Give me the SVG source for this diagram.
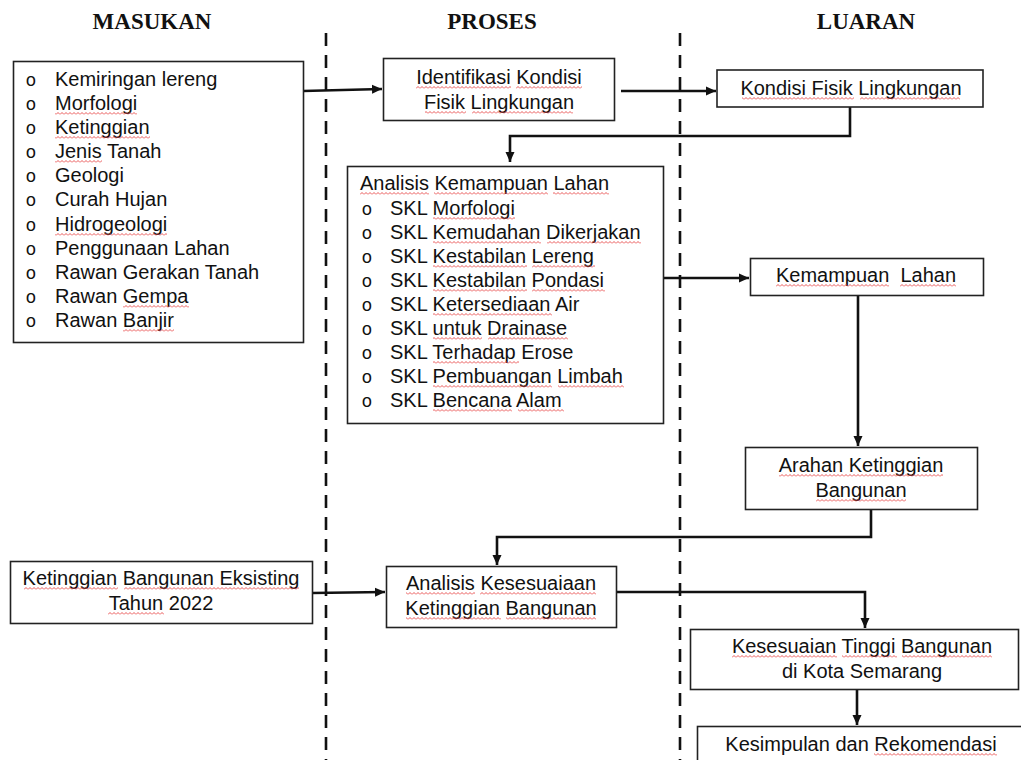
<svg xmlns="http://www.w3.org/2000/svg" width="1021" height="760" viewBox="0 0 1021 760">
<style>
.hdr{font-family:"Liberation Serif","Times New Roman",serif;font-weight:bold;font-size:23px;fill:#111;text-anchor:middle}
.t{font-family:"Liberation Sans",Arial,sans-serif;font-size:20px;fill:#111;white-space:pre}
.c{text-anchor:middle}
.b{font-family:"Liberation Mono","Courier New",monospace;font-size:18px;fill:#111;text-anchor:middle}
.box{fill:#fff;stroke:#222;stroke-width:1.6}
.dash{stroke:#111;stroke-width:2.6;stroke-dasharray:13 9;fill:none}
.con{stroke:#111;stroke-width:2.6;fill:none}
.sq{fill:url(#wv)}
</style>
<defs>
<marker id="ah" markerUnits="userSpaceOnUse" markerWidth="11" markerHeight="10" refX="10" refY="5" orient="auto">
<path d="M0,0.5 L10,5 L0,9.5 z" fill="#111"/>
</marker>
<pattern id="wv" patternUnits="userSpaceOnUse" x="0" y="0" width="4" height="3">
<path d="M0,2.5 L2,0.5 L4,2.5" fill="none" stroke="#e84545" stroke-width="0.9"/>
</pattern>
</defs>
<rect width="1021" height="760" fill="#fff"/>

<g id="headers">
<text class="hdr" x="152" y="29">MASUKAN</text>
<text class="hdr" x="492" y="29">PROSES</text>
<text class="hdr" x="866" y="29">LUARAN</text>
</g>

<g id="dividers">
<line class="dash" x1="326" y1="33" x2="326" y2="760"/>
<line class="dash" x1="680" y1="33" x2="680" y2="760"/>
</g>

<g id="connectors">
<path class="con" d="M303,91 L382,89" marker-end="url(#ah)"/>
<path class="con" d="M621,91 L716,91" marker-end="url(#ah)"/>
<path class="con" d="M850,107 L850,136 L510,136 L510,162" marker-end="url(#ah)"/>
<path class="con" d="M663,278 L749,278" marker-end="url(#ah)"/>
<path class="con" d="M858,295 L858,446" marker-end="url(#ah)"/>
<path class="con" d="M871,509 L871,537 L497,537 L497,565" marker-end="url(#ah)"/>
<path class="con" d="M312,593 L385,592" marker-end="url(#ah)"/>
<path class="con" d="M616,592 L865,592 L865,628" marker-end="url(#ah)"/>
<path class="con" d="M857,689 L857,725" marker-end="url(#ah)"/>
</g>

<g id="masukan-list">
<rect class="box" x="13.5" y="61.5" width="290" height="281"/>
<text class="b" x="31" y="86">o</text><text class="t" x="55" y="86">Kemiringan lereng</text>
<text class="b" x="31" y="110">o</text><text class="t" x="55" y="110">Morfologi</text>
<text class="b" x="31" y="134">o</text><text class="t" x="55" y="134">Ketinggian</text>
<text class="b" x="31" y="158">o</text><text class="t" x="55" y="158">Jenis Tanah</text>
<text class="b" x="31" y="182">o</text><text class="t" x="55" y="182">Geologi</text>
<text class="b" x="31" y="206">o</text><text class="t" x="55" y="206">Curah Hujan</text>
<text class="b" x="31" y="231">o</text><text class="t" x="55" y="231">Hidrogeologi</text>
<text class="b" x="31" y="255">o</text><text class="t" x="55" y="255">Penggunaan Lahan</text>
<text class="b" x="31" y="279">o</text><text class="t" x="55" y="279">Rawan Gerakan Tanah</text>
<text class="b" x="31" y="303">o</text><text class="t" x="55" y="303">Rawan Gempa</text>
<text class="b" x="31" y="327">o</text><text class="t" x="55" y="327">Rawan Banjir</text>
</g>

<g id="identifikasi">
<rect class="box" x="383.5" y="58.5" width="231" height="62"/>
<text class="t c" x="499" y="84">Identifikasi Kondisi</text>
<text class="t c" x="499" y="109">Fisik Lingkungan</text>
</g>

<g id="kondisi-fisik">
<rect class="box" x="717" y="70" width="266" height="37"/>
<text class="t c" x="851" y="95">Kondisi Fisik Lingkungan</text>
</g>

<g id="analisis-kemampuan">
<rect class="box" x="347.5" y="166.5" width="316" height="257"/>
<text class="t" x="360" y="190">Analisis Kemampuan Lahan</text>
<text class="b" x="367" y="215">o</text><text class="t" x="390" y="215">SKL Morfologi</text>
<text class="b" x="367" y="239">o</text><text class="t" x="390" y="239">SKL Kemudahan Dikerjakan</text>
<text class="b" x="367" y="263">o</text><text class="t" x="390" y="263">SKL Kestabilan Lereng</text>
<text class="b" x="367" y="287">o</text><text class="t" x="390" y="287">SKL Kestabilan Pondasi</text>
<text class="b" x="367" y="311">o</text><text class="t" x="390" y="311">SKL Ketersediaan Air</text>
<text class="b" x="367" y="335">o</text><text class="t" x="390" y="335">SKL untuk Drainase</text>
<text class="b" x="367" y="359">o</text><text class="t" x="390" y="359">SKL Terhadap Erose</text>
<text class="b" x="367" y="383">o</text><text class="t" x="390" y="383">SKL Pembuangan Limbah</text>
<text class="b" x="367" y="407">o</text><text class="t" x="390" y="407">SKL Bencana Alam</text>
</g>

<g id="kemampuan-lahan">
<rect class="box" x="750.5" y="258.5" width="233" height="37"/>
<text class="t c" x="866" y="282">Kemampuan  Lahan</text>
</g>

<g id="arahan">
<rect class="box" x="745.5" y="447.5" width="232" height="62"/>
<text class="t c" x="861" y="472">Arahan Ketinggian</text>
<text class="t c" x="861" y="497">Bangunan</text>
</g>

<g id="eksisting">
<rect class="box" x="10.5" y="561.5" width="302" height="62"/>
<text class="t c" x="161" y="585">Ketinggian Bangunan Eksisting</text>
<text class="t c" x="161" y="610">Tahun 2022</text>
</g>

<g id="analisis-kesesuaian">
<rect class="box" x="386.5" y="566.5" width="230" height="61"/>
<text class="t c" x="501" y="590">Analisis Kesesuaiaan</text>
<text class="t c" x="501" y="615">Ketinggian Bangunan</text>
</g>

<g id="kesesuaian-tinggi">
<rect class="box" x="690.5" y="629.5" width="328" height="60"/>
<text class="t c" x="862" y="653">Kesesuaian Tinggi Bangunan</text>
<text class="t c" x="862" y="678">di Kota Semarang</text>
</g>

<g id="kesimpulan">
<rect class="box" x="697.5" y="726.5" width="340" height="60"/>
<text class="t c" x="861" y="751">Kesimpulan dan Rekomendasi</text>
</g>

<g id="spellcheck-marks">
<rect class="sq" x="55" y="0" width="82" height="3" transform="translate(0,112)"/>
<rect class="sq" x="55" y="0" width="95" height="3" transform="translate(0,136)"/>
<rect class="sq" x="55" y="0" width="47" height="3" transform="translate(0,160)"/>
<rect class="sq" x="55" y="0" width="112" height="3" transform="translate(0,233)"/>
<rect class="sq" x="123" y="0" width="66" height="3" transform="translate(0,305)"/>
<rect class="sq" x="123" y="0" width="51" height="3" transform="translate(0,329)"/>

<rect class="sq" x="416" y="0" width="95" height="3" transform="translate(0,86)"/>
<rect class="sq" x="516" y="0" width="66" height="3" transform="translate(0,86)"/>
<rect class="sq" x="425" y="0" width="41" height="3" transform="translate(0,111)"/>
<rect class="sq" x="472" y="0" width="101" height="3" transform="translate(0,111)"/>

<rect class="sq" x="742" y="0" width="112" height="3" transform="translate(0,97)"/>
<rect class="sq" x="860" y="0" width="100" height="3" transform="translate(0,97)"/>

<rect class="sq" x="360" y="0" width="69" height="3" transform="translate(0,192)"/>
<rect class="sq" x="434" y="0" width="114" height="3" transform="translate(0,192)"/>
<rect class="sq" x="553" y="0" width="56" height="3" transform="translate(0,192)"/>
<rect class="sq" x="433" y="0" width="82" height="3" transform="translate(0,217)"/>
<rect class="sq" x="433" y="0" width="108" height="3" transform="translate(0,241)"/>
<rect class="sq" x="547" y="0" width="94" height="3" transform="translate(0,241)"/>
<rect class="sq" x="433" y="0" width="94" height="3" transform="translate(0,265)"/>
<rect class="sq" x="532" y="0" width="63" height="3" transform="translate(0,265)"/>
<rect class="sq" x="433" y="0" width="94" height="3" transform="translate(0,289)"/>
<rect class="sq" x="532" y="0" width="73" height="3" transform="translate(0,289)"/>
<rect class="sq" x="433" y="0" width="119" height="3" transform="translate(0,313)"/>
<rect class="sq" x="433" y="0" width="49" height="3" transform="translate(0,337)"/>
<rect class="sq" x="488" y="0" width="80" height="3" transform="translate(0,337)"/>
<rect class="sq" x="433" y="0" width="86" height="3" transform="translate(0,361)"/>
<rect class="sq" x="433" y="0" width="119" height="3" transform="translate(0,385)"/>
<rect class="sq" x="558" y="0" width="66" height="3" transform="translate(0,385)"/>
<rect class="sq" x="433" y="0" width="79" height="3" transform="translate(0,409)"/>
<rect class="sq" x="518" y="0" width="46" height="3" transform="translate(0,409)"/>

<rect class="sq" x="776" y="0" width="113" height="3" transform="translate(0,284)"/>
<rect class="sq" x="900" y="0" width="56" height="3" transform="translate(0,284)"/>

<rect class="sq" x="779" y="0" width="164" height="3" transform="translate(0,474)"/>
<rect class="sq" x="816" y="0" width="90" height="3" transform="translate(0,499)"/>

<rect class="sq" x="24" y="0" width="94" height="3" transform="translate(0,587)"/>
<rect class="sq" x="124" y="0" width="175" height="3" transform="translate(0,587)"/>
<rect class="sq" x="108" y="0" width="56" height="3" transform="translate(0,612)"/>

<rect class="sq" x="406" y="0" width="69" height="3" transform="translate(0,592)"/>
<rect class="sq" x="480" y="0" width="116" height="3" transform="translate(0,592)"/>
<rect class="sq" x="406" y="0" width="95" height="3" transform="translate(0,617)"/>
<rect class="sq" x="506" y="0" width="90" height="3" transform="translate(0,617)"/>

<rect class="sq" x="732" y="0" width="105" height="3" transform="translate(0,655)"/>
<rect class="sq" x="842" y="0" width="55" height="3" transform="translate(0,655)"/>
<rect class="sq" x="902" y="0" width="90" height="3" transform="translate(0,655)"/>

<rect class="sq" x="874" y="0" width="123" height="3" transform="translate(0,753)"/>
</g>
</svg>
